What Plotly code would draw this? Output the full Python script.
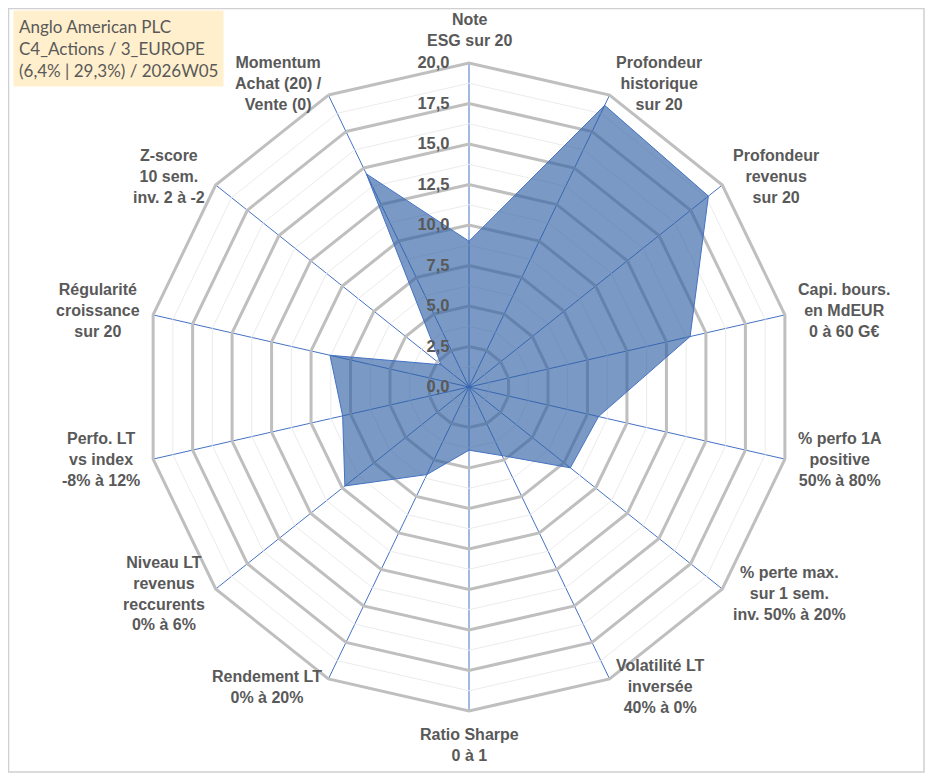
import math
import plotly.graph_objects as go

categories = [
    "Note<br>ESG sur 20",
    "Profondeur<br>historique<br>sur 20",
    "Profondeur<br>revenus<br>sur 20",
    "Capi. bours.<br>en MdEUR<br>0 à 60 G€",
    "% perfo 1A<br>positive<br>50% à 80%",
    "% perte max.<br>sur 1 sem.<br>inv. 50% à 20%",
    "Volatilité LT<br>inversée<br>40% à 0%",
    "Ratio Sharpe<br>0 à 1",
    "Rendement LT<br>0% à 20%",
    "Niveau LT<br>revenus<br>reccurents<br>0% à 6%",
    "Perfo. LT<br>vs index<br>-8% à 12%",
    "Régularité<br>croissance<br>sur 20",
    "Z-score<br>10 sem.<br>inv. 2 à -2",
    "Momentum<br>Achat (20) /<br>Vente (0)",
]
scores = [9.0, 19.3, 18.9, 14.0, 8.2, 8.0, 4.7, 3.9, 6.0, 9.8, 8.0, 8.8, 2.2, 14.6]
minor_levels = [1.25, 3.75, 6.25, 8.75, 11.25, 13.75, 16.25, 18.75]
title_lines = ["Anglo American PLC", "C4_Actions / 3_EUROPE", "(6,4% | 29,3%) / 2026W05"]

# page has an 8px body margin: work in figure coordinates
OFF = 8
W, H = 933 - OFF, 776 - OFF
cx, cy, R = 469 - OFF, 387 - OFF, 324

fig = go.Figure()

for lv in minor_levels:
    fig.add_trace(go.Scatterpolar(
        r=[lv] * (len(categories) + 1),
        theta=categories + [categories[0]],
        mode="lines",
        line=dict(color="#EBEBEB", width=1),
        hoverinfo="skip",
        showlegend=False,
    ))

fig.add_trace(go.Scatterpolar(
    r=scores + [scores[0]],
    theta=categories + [categories[0]],
    mode="lines",
    fill="toself",
    fillcolor="rgba(47,95,165,0.64)",
    line=dict(color="#4472C4", width=1),
    showlegend=False,
))

# category labels placed Excel-style around the outer ring
label_font = dict(size=16, color="#595959", family="Liberation Sans, Arial, sans-serif", weight="bold")
annotations = []
n = len(categories)
for i, lab in enumerate(categories):
    th = 2 * math.pi * i / n
    s, c = math.sin(th), math.cos(th)
    if abs(s) < 0.3:
        xa = "center"
        if c > 0:
            pad, ya = 10, "bottom"
        else:
            pad, ya = 15, "top"
    else:
        pad = 11
        xa = "left" if s > 0 else "right"
        ya = "middle"
    px = cx + (R + pad) * s
    py = cy - (R + pad) * c - 2
    annotations.append(dict(
        xref="paper", yref="paper", x=px / W, y=1 - py / H,
        xanchor=xa, yanchor=ya, align="center", text=lab,
        showarrow=False, font=label_font,
    ))

annotations.append(dict(
    xref="paper", yref="paper", x=(13 - OFF) / W, y=1 - (10 - OFF) / H,
    xanchor="left", yanchor="top", align="left",
    text="<br>".join(title_lines), showarrow=False,
    bgcolor="#FFEFCC", borderpad=5,
    font=dict(family="Lato, Open Sans, sans-serif", size=17, color="#595959"),
))

fig.update_layout(
    width=W, height=H,
    margin=dict(l=0, r=0, t=0, b=0),
    paper_bgcolor="white",
    separators=", ",
    font=dict(family="Liberation Sans, Arial, sans-serif", color="#595959"),
    polar=dict(
        domain=dict(x=[(cx - R) / W, (cx + R) / W], y=[1 - (cy + R) / H, 1 - (cy - R) / H]),
        bgcolor="white",
        gridshape="linear",
        radialaxis=dict(
            range=[0, 20], dtick=2.5, tick0=0, tickformat=".1f",
            ticksuffix="\u2002\u2002",
            angle=90, tickangle=90, side="counterclockwise",
            showline=False, ticks="",
            gridcolor="#BFBFBF", gridwidth=3,
            tickfont=dict(size=16.5, color="#595959", family="Liberation Sans, Arial, sans-serif", weight="bold"),
        ),
        angularaxis=dict(
            direction="clockwise", rotation=90,
            gridcolor="#4472C4", gridwidth=1.2,
            linecolor="#BFBFBF", linewidth=3,
            ticks="", showticklabels=False,
        ),
    ),
    shapes=[dict(type="rect", xref="paper", yref="paper",
                 x0=0.5 / W, x1=916 / W, y0=1 - 764 / H, y1=1 - 0.5 / H,
                 line=dict(color="#D0D0D0", width=1.5), fillcolor="rgba(0,0,0,0)", layer="below")],
    annotations=annotations,
)

fig.write_html("out.html")
